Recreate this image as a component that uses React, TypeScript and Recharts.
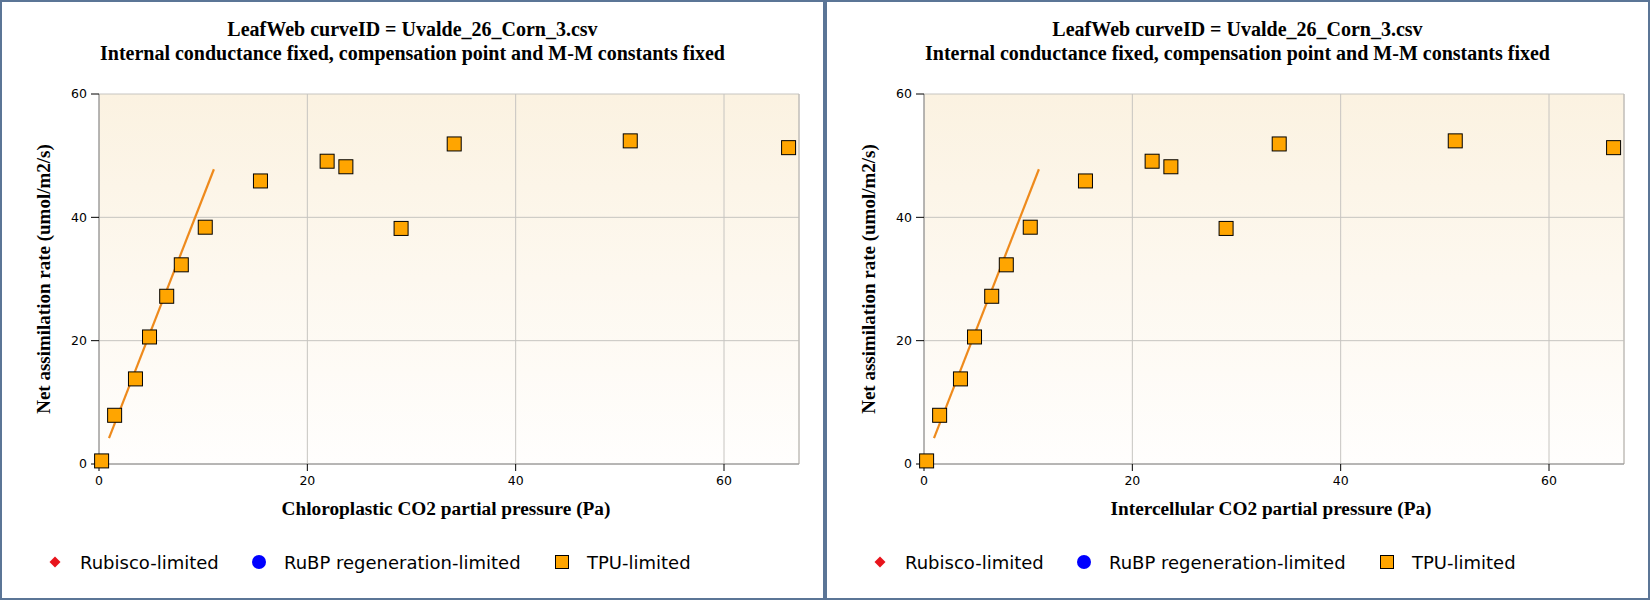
import React from 'react';
import { ScatterChart, Scatter, XAxis, YAxis, CartesianGrid, ReferenceLine } from 'recharts';

// ---- data ----
const tpuX = [0.25, 1.5, 3.5, 4.85, 6.5, 7.9, 10.2, 15.5, 21.9, 23.7, 29.0, 34.1, 51.0, 66.2];
const tpuY = [0.5, 7.9, 13.8, 20.6, 27.2, 32.3, 38.4, 45.9, 49.1, 48.2, 38.2, 51.9, 52.4, 51.3];
const fitX = [0.96, 11.03];
const fitY = [4.2, 47.8];
const xTicks = [0, 20, 40, 60];
const yTicks = [0, 20, 40, 60];
const xMax = 67.2;
const yMax = 60;
const titleLines = [
  'LeafWeb curveID = Uvalde_26_Corn_3.csv',
  'Internal conductance fixed, compensation point and M-M constants fixed',
];
const xLabels = ['Chloroplastic CO2 partial pressure (Pa)', 'Intercellular CO2 partial pressure (Pa)'];
const yLabel = 'Net assimilation rate (umol/m2/s)';
const legendNames = ['Rubisco-limited', 'RuBP regeneration-limited', 'TPU-limited'];

const tpuData = tpuX.map((x, i) => ({ x, y: tpuY[i] }));
const fitData = fitX.map((x, i) => ({ x, y: fitY[i] }));

// ---- layout / style ----
const INNER_W = 821;
const INNER_H = 596;
const legendIconCenters = [53, 257, 560];
const serif = '"Liberation Serif", "Times New Roman", serif';
const sans = '"DejaVu Sans", Verdana, sans-serif';

const squareShape = (p: any) => (
  <rect x={p.cx - 7} y={p.cy - 7} width={14} height={14} fill="#FFA500" stroke="#000" strokeWidth={1} />
);
const noShape = () => <g />;

function LegendIcon({ idx }: { idx: number }) {
  if (idx === 0)
    return (
      <svg width={16} height={16}>
        <polygon points="8,2.5 13.5,8 8,13.5 2.5,8" fill="#e8141c" />
      </svg>
    );
  if (idx === 1)
    return (
      <svg width={16} height={16}>
        <circle cx={8} cy={8} r={7} fill="#0000ff" />
      </svg>
    );
  return (
    <svg width={16} height={16}>
      <rect x={1.5} y={1.5} width={13} height={13} fill="#FFA500" stroke="#000" strokeWidth={1} />
    </svg>
  );
}

function Panel({ xLabel, id }: { xLabel: string; id: string }) {
  return (
    <div
      style={{
        position: 'relative',
        width: 825,
        height: 600,
        boxSizing: 'border-box',
        border: '2px solid #5b7596',
        background: '#fff',
      }}
    >
      <ScatterChart width={INNER_W} height={INNER_H} margin={{ top: 92, right: 24, left: 0, bottom: 74 }}>
        <defs>
          <linearGradient id={`bg-${id}`} x1="0" y1="0" x2="0" y2="1">
            <stop offset="0%" stopColor="#fbf2e1" />
            <stop offset="100%" stopColor="#fffefd" />
          </linearGradient>
        </defs>
        <CartesianGrid fill={`url(#bg-${id})`} fillOpacity={1} stroke="#c6c4c0" strokeWidth={1} />
        <XAxis
          type="number"
          dataKey="x"
          domain={[0, xMax]}
          ticks={xTicks}
          height={60}
          tickSize={7}
          tickMargin={5}
          tick={{ fill: '#000', fontSize: 12.5, fontFamily: sans }}
          tickLine={{ stroke: '#000' }}
          axisLine={{ stroke: '#8a8a8a' }}
          label={(props: any) => {
            const vb = props.viewBox;
            return (
              <text
                x={vb.x + vb.width / 2 - 3}
                y={vb.y + 44}
                textAnchor="middle"
                dominantBaseline="central"
                style={{ fontFamily: serif, fontWeight: 'bold', fontSize: 19.3, fill: '#000' }}
              >
                {xLabel}
              </text>
            );
          }}
        />
        <YAxis
          type="number"
          dataKey="y"
          domain={[0, yMax]}
          ticks={yTicks}
          width={97}
          tickSize={8}
          tickMargin={4}
          tick={{ fill: '#000', fontSize: 12.5, fontFamily: sans }}
          tickLine={{ stroke: '#000' }}
          axisLine={{ stroke: '#8a8a8a' }}
          label={(props: any) => {
            const vb = props.viewBox;
            const cy = vb.y + vb.height / 2;
            return (
              <text
                x={41}
                y={cy}
                transform={`rotate(-90, 41, ${cy})`}
                textAnchor="middle"
                dominantBaseline="central"
                style={{ fontFamily: serif, fontWeight: 'bold', fontSize: 19, fill: '#000' }}
              >
                {yLabel}
              </text>
            );
          }}
        />
        <ReferenceLine x={xMax} stroke="#bdbab5" strokeWidth={1} />
        <Scatter
          data={fitData}
          line={{ stroke: '#ee8a1c', strokeWidth: 2.2 }}
          shape={noShape}
          legendType="none"
          isAnimationActive={false}
        />
        <Scatter data={tpuData} shape={squareShape} isAnimationActive={false} />
      </ScatterChart>
      <div
        style={{
          position: 'absolute',
          top: 15,
          left: 0,
          width: INNER_W,
          textAlign: 'center',
          fontFamily: serif,
          fontWeight: 'bold',
          fontSize: 20,
          lineHeight: '24px',
          color: '#000',
        }}
      >
        {titleLines.map((t) => (
          <div key={t}>{t}</div>
        ))}
      </div>
      {legendNames.map((name, i) => (
        <div
          key={name}
          style={{
            position: 'absolute',
            top: 560 - 12,
            left: legendIconCenters[i] - 8,
            height: 24,
            display: 'flex',
            alignItems: 'center',
            fontFamily: sans,
            fontSize: 18,
            color: '#000',
            whiteSpace: 'nowrap',
          }}
        >
          <LegendIcon idx={i} />
          <span style={{ marginLeft: 17 }}>{name}</span>
        </div>
      ))}
    </div>
  );
}

export default function App() {
  return (
    <div style={{ position: 'absolute', left: 0, top: 0, width: 1650, height: 600, display: 'flex' }}>
      <Panel xLabel={xLabels[0]} id="a" />
      <Panel xLabel={xLabels[1]} id="b" />
    </div>
  );
}
